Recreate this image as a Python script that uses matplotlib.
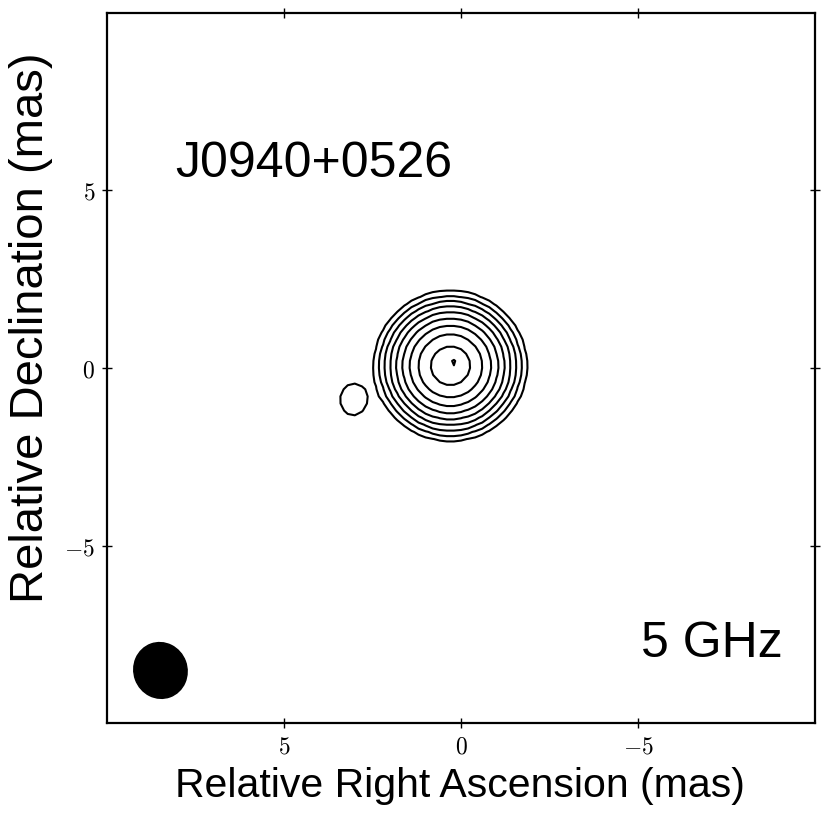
import numpy as np
import matplotlib
matplotlib.use("Agg")
import matplotlib.pyplot as plt
from matplotlib.patches import Ellipse

plt.rcParams['mathtext.fontset'] = 'cm'

# ---- data ----
source_name = "J0940+0526"
band_label = "5 GHz"
# Gaussian model components: x (mas), y (mas), peak (in units of lowest contour), sigma_x, sigma_y
comp_x = [0.30, 0.20, 0.30, 3.06]
comp_y = [0.06, 0.14, 0.06, -0.90]
comp_peak = [390.0, 175.0, 1.1, 1.8]
comp_sx = [0.60, 0.15, 1.5, 0.30]
comp_sy = [0.59, 0.15, 1.4, 0.36]
# contour levels (multiples of lowest contour)
levels = [1, 2, 4, 8, 16, 32, 64, 128, 256, 512]
# restoring beam: centre x, y, minor, major (mas), angle (deg)
beam_x, beam_y = 8.49, -8.52
beam_minor, beam_major, beam_angle = 1.50, 1.58, -20
xticks = [5, 0, -5]
yticks = [5, 0, -5]
xlim = (10, -10)
ylim = (-10, 10)

# ---- model image on a pixel grid ----
step = 0.2
gx = np.arange(-10, 10 + step / 2, step)
gy = np.arange(-10, 10 + step / 2, step)
X, Y = np.meshgrid(gx, gy)
Z = np.zeros_like(X)
for cx, cy, p, sx, sy in zip(comp_x, comp_y, comp_peak, comp_sx, comp_sy):
    Z += p * np.exp(-((X - cx) ** 2 / (2 * sx ** 2) + (Y - cy) ** 2 / (2 * sy ** 2)))

fig = plt.figure(figsize=(8.3, 8.22), dpi=100)
ax = fig.add_axes([107 / 830, 99 / 822, 708 / 830, 710 / 822])
ax.contour(X, Y, Z, levels=levels, colors='black', linewidths=1.5)

ax.add_patch(Ellipse((beam_x, beam_y), beam_minor, beam_major, angle=beam_angle,
                     facecolor='black', edgecolor='black'))

ax.set_xlim(*xlim)
ax.set_ylim(*ylim)
ax.set_xticks(xticks)
ax.set_yticks(yticks)
ax.set_xticklabels([r'$%d$' % t for t in xticks])
ax.set_yticklabels([r'$%d$' % t for t in yticks])
ax.tick_params(direction='inout', length=7, width=1, top=True, right=True,
               labelsize=17, pad=5)
for s in ax.spines.values():
    s.set_linewidth(1.6)

fam = ['Liberation Sans', 'DejaVu Sans']
ax.text(8.08, 5.38, source_name, fontsize=36, family=fam, ha='left', va='baseline')
ax.text(-9.1, -8.14, band_label, fontsize=36, family=fam, ha='right', va='baseline')

fig.text(460 / 830, 1 - 786 / 822, "Relative Right Ascension (mas)", fontsize=29.5,
         family=fam, ha='center', va='center')
fig.text(31 / 830, 1 - 328 / 822, "Relative Declination (mas)", fontsize=34,
         family=fam, ha='center', va='center', rotation=90)

fig.savefig("out.png", dpi=100)
